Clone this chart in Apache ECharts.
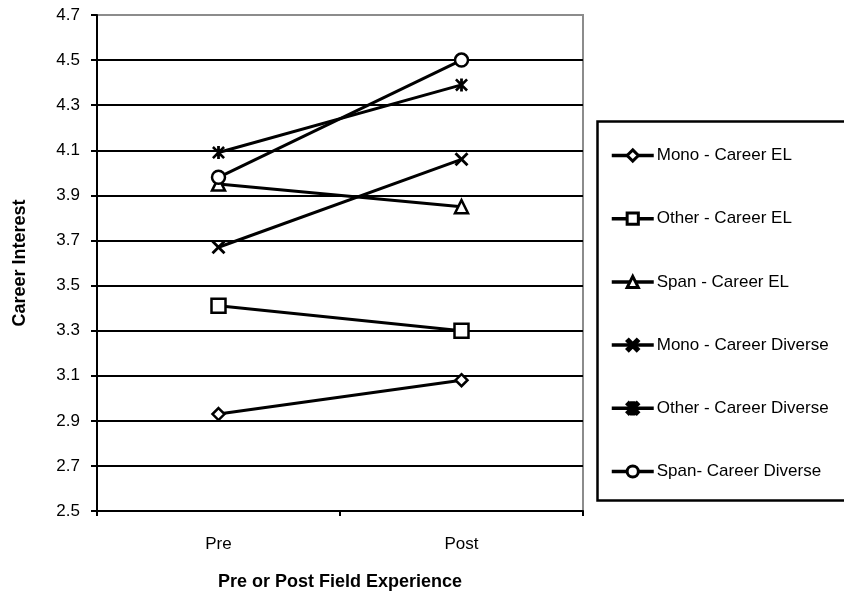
<!DOCTYPE html>
<html>
<head>
<meta charset="utf-8">
<script src="https://cdn.jsdelivr.net/npm/echarts@6/dist/echarts.min.js"></script>
<style>html,body{margin:0;padding:0;background:#fff}#c{width:844px;height:596px}</style>
</head>
<body>
<div id="c"></div>
<script>
var categories = ['Pre', 'Post'];
var yTicks = [2.5, 2.7, 2.9, 3.1, 3.3, 3.5, 3.7, 3.9, 4.1, 4.3, 4.5, 4.7];
var seriesNames = ['Mono - Career EL', 'Other - Career EL', 'Span - Career EL', 'Mono - Career Diverse', 'Other - Career Diverse', 'Span- Career Diverse'];
var monoEL = [2.93, 3.08];
var otherEL = [3.41, 3.30];
var spanEL = [3.95, 3.85];
var monoDiverse = [3.67, 4.06];
var otherDiverse = [4.09, 4.39];
var spanDiverse = [3.98, 4.50];

var FONT = 'Liberation Sans, Arial, sans-serif';
var X_PATH = 'path://M0,2 L2,0 L7,5 L12,0 L14,2 L9,7 L14,12 L12,14 L7,9 L2,14 L0,12 L5,7 Z';
var STAR_PATH = 'path://M0,2 L2,0 L7,5 L12,0 L14,2 L9,7 L14,12 L12,14 L7,9 L2,14 L0,12 L5,7 Z M5.5,0 L8.5,0 L8.5,14 L5.5,14 Z';

function mk(name, data, symbol, size, filled) {
  return {
    name: name, type: 'line', data: data,
    symbol: symbol, symbolSize: size, showAllSymbol: true,
    lineStyle: { color: '#000', width: 3 },
    itemStyle: filled ? { color: '#000', borderColor: '#000', borderWidth: 0 }
                      : { color: '#fff', borderColor: '#000', borderWidth: 2.5 },
    emphasis: { disabled: true },
    z: 3
  };
}

var gridColors = yTicks.map(function (v, i) { return i === yTicks.length - 1 ? '#8c8c8c' : '#000'; });

var chart = echarts.init(document.getElementById('c'), null, { renderer: 'canvas' });
chart.setOption({
  animation: false,
  backgroundColor: '#fff',
  textStyle: { fontFamily: FONT },
  grid: { left: 97, right: 261, top: 15, bottom: 81, show: true, borderColor: '#8c8c8c', borderWidth: 2, backgroundColor: '#fff' },
  xAxis: {
    type: 'category', data: categories, boundaryGap: true,
    axisLine: { lineStyle: { color: '#000', width: 2 } },
    axisTick: { show: true, length: 5, alignWithLabel: false, lineStyle: { color: '#000', width: 2 } },
    axisLabel: { color: '#000', fontSize: 17, margin: 25, fontFamily: FONT },
    name: 'Pre or Post Field Experience', nameLocation: 'middle', nameGap: 62,
    nameTextStyle: { color: '#000', fontSize: 18, fontWeight: 'bold', fontFamily: FONT },
    splitLine: { show: false }
  },
  yAxis: {
    type: 'value', min: 2.5, max: 4.7,
    axisLine: { show: true, lineStyle: { color: '#000', width: 2 } },
    axisTick: { show: true, length: 6, inside: false, customValues: yTicks, lineStyle: { color: '#000', width: 2 } },
    axisLabel: { color: '#000', fontSize: 17, margin: 17, customValues: yTicks,
      formatter: function (v) { return v.toFixed(1); }, fontFamily: FONT },
    splitLine: { show: true, lineStyle: { color: gridColors, width: 2 } },
    name: 'Career Interest', nameLocation: 'middle', nameGap: 68, nameRotate: 90,
    nameTextStyle: { color: '#000', fontSize: 18, fontWeight: 'bold', fontFamily: FONT }
  },
  legend: {
    orient: 'vertical', left: 605, top: 142,
    itemWidth: 42, itemHeight: 14, itemGap: 46.2,
    lineStyle: { width: 3.5, color: '#000' },
    itemStyle: { borderWidth: 3, borderColor: '#000' },
    textStyle: { color: '#000', fontSize: 17, lineHeight: 14, fontFamily: FONT, padding: [0, 0, 0, -2] },
    data: seriesNames,
    selectedMode: false
  },
  graphic: [{
    type: 'rect', left: 595, top: 119, z: 0,
    shape: { width: 270, height: 379 },
    style: { fill: 'none', stroke: '#000', lineWidth: 2.5 }
  }],
  series: [
    mk(seriesNames[0], monoEL, 'diamond', 12, false),
    mk(seriesNames[1], otherEL, 'rect', 14, false),
    mk(seriesNames[2], spanEL, 'triangle', 13, false),
    mk(seriesNames[3], monoDiverse, X_PATH, 14, true),
    mk(seriesNames[4], otherDiverse, STAR_PATH, 13, true),
    mk(seriesNames[5], spanDiverse, 'circle', 13, false)
  ]
});
</script>
</body>
</html>
